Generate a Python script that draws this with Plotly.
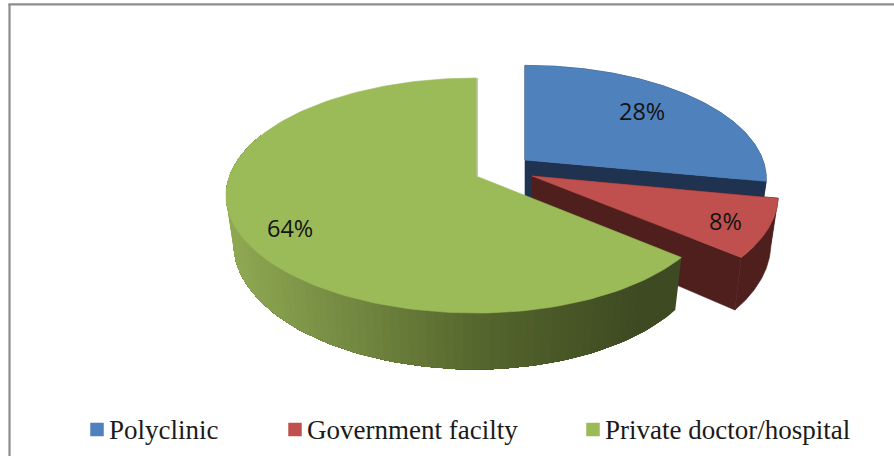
import numpy as np
import plotly.graph_objects as go

categories = ["Polyclinic", "Government facilty", "Private doctor/hospital"]
shares = [28, 8, 64]
colors = ["#4f81bd", "#c0504d", "#9bbb59"]
wall_colors = ["#1f3250", "#4f1f1e", None]

# projection of the tilted pie (pixels)
A, B, K, DEPTH, SHRINK = 246.5, 114.3, 0.166, 47.0, 0.97
apex = [(525, 160), (532, 176), (476, 176)]
scale = [0.965, 1.0, 1.0]
right_scale = [1.0, 0.985, 0.967]
label_pos = [(642, 111), (725, 221), (290, 228)]
legend_pos = [(97, 109), (295, 307), (593, 605)]


def rim(theta, i, low=False):
    cx, cy = apex[i]
    s = scale[i]
    w = 1 + K * np.cos(theta)
    x = A * s * np.sin(theta) / w
    x = np.where(x > 0, x * right_scale[i], x)
    y = -B * s * np.cos(theta) / w
    if low:
        x = x * SHRINK
        y = y + DEPTH / w
    return cx + x, cy + y


def low_apex(i):
    return apex[i][0], apex[i][1] + DEPTH


def poly(xs, ys, color, width=0.6):
    return go.Scatter(x=list(xs), y=list(ys), mode="lines", fill="toself", fillcolor=color,
                      line=dict(color=color, width=width), hoverinfo="skip", showlegend=False)


def mix(c1, c2, t):
    t = min(max(t, 0), 1)
    return "rgb(%d,%d,%d)" % tuple(round(a + (b - a) * t) for a, b in zip(c1, c2))


def green_side(x):
    if x < 480:
        return mix((142, 168, 82), (85, 102, 45), (x - 233) / (480 - 233))
    return mix((85, 102, 45), (62, 74, 34), (x - 480) / (640 - 480))


edges = np.cumsum([0] + shares) / sum(shares) * 2 * np.pi
fig = go.Figure()

for i in range(len(shares)):
    a0, a1 = edges[i], edges[i + 1]
    th = np.linspace(a0, a1, 160)
    tx, ty = rim(th, i)
    bx, by = rim(th, i, low=True)
    ax, ay = apex[i]
    lx, ly = low_apex(i)
    if wall_colors[i]:
        # outer wall and the cut faces
        fig.add_trace(poly(np.r_[tx, bx[::-1]], np.r_[ty, by[::-1]], wall_colors[i]))
        fig.add_trace(poly([ax, tx[0], bx[0], lx], [ay, ty[0], by[0], ly], wall_colors[i]))
        fig.add_trace(poly([ax, tx[-1], bx[-1], lx], [ay, ty[-1], by[-1], ly], wall_colors[i]))
    else:
        # outer wall with a horizontal light-to-dark gradient: each band is painted
        # from its start to the far end of the wall, so that no seams show
        ths = np.linspace(a0, np.radians(292), 90)
        sx, sy = rim(ths, i)
        ux, uy = rim(ths, i, low=True)
        for j in range(len(ths) - 1):
            fig.add_trace(poly(np.r_[sx[j:], ux[j:][::-1]], np.r_[sy[j:], uy[j:][::-1]],
                               green_side((sx[j] + sx[j + 1]) / 2), width=0))
    fig.add_trace(poly(np.r_[ax, tx, ax], np.r_[ay, ty, ay], colors[i]))
    if not wall_colors[i]:
        fig.add_trace(go.Scatter(x=[ax + 1, tx[-1] + 1], y=[ay, ty[-1]], mode="lines",
                                 line=dict(color="#7f9a48", width=1), hoverinfo="skip", showlegend=False))

annotations = []
for v, (x, y) in zip(shares, label_pos):
    annotations.append(dict(x=x, y=y, text=f"{v}%", showarrow=False, xanchor="center", yanchor="middle",
                            font=dict(family="Open Sans", size=23.5, color="#141414")))
for name, c, (mx, tx) in zip(categories, colors, legend_pos):
    fig.add_trace(go.Scatter(x=[mx], y=[429.5], mode="markers", hoverinfo="skip", showlegend=False,
                             marker=dict(symbol="square", size=13.5, color=c)))
    annotations.append(dict(x=tx, y=430, text=name, showarrow=False, xanchor="left", yanchor="middle",
                            xshift=-2, font=dict(family="Liberation Serif", size=27, color="#1a1a1a")))

fig.update_layout(
    width=894, height=456, margin=dict(l=0, r=0, t=0, b=0), autosize=False,
    paper_bgcolor="white", plot_bgcolor="white", showlegend=False,
    xaxis=dict(range=[0, 894], visible=False, fixedrange=True),
    yaxis=dict(range=[456, 0], visible=False, fixedrange=True),
    annotations=annotations,
    shapes=[
        dict(type="line", x0=8.5, x1=894, y0=4.3, y1=4.3, line=dict(color="#8c8c8c", width=2.2)),
        dict(type="line", x0=9.5, x1=9.5, y0=4, y1=456, line=dict(color="#8c8c8c", width=2.2)),
    ],
)
fig.write_html("out.html", config=dict(displayModeBar=False),
               post_script="document.body.style.margin='0';document.body.style.overflow='hidden';")
